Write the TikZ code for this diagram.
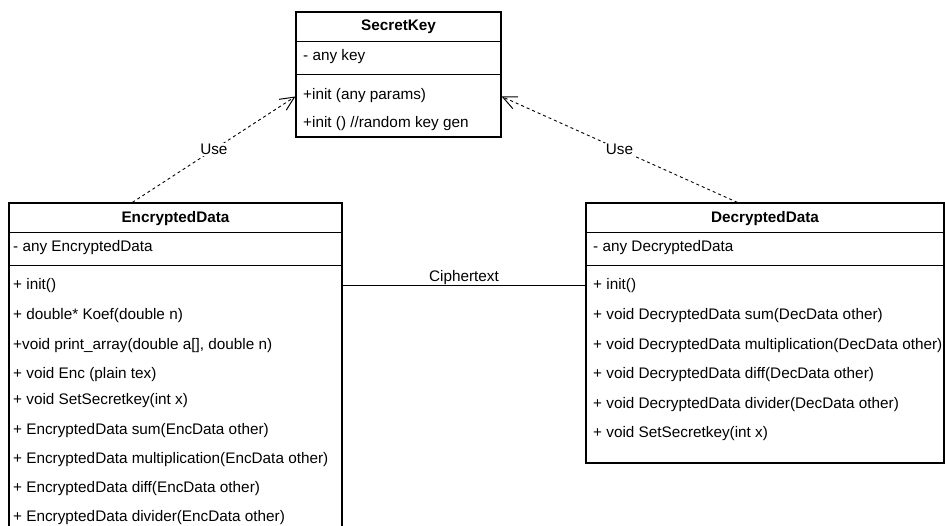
\documentclass[tikz,border=0pt]{standalone}
\usepackage{fontspec}
\setmainfont{Liberation Sans}
\usepackage{tikz}
\usetikzlibrary{arrows.meta}
\tikzstyle{classBox}=[draw, line width=1.2pt, inner sep=0pt]
\tikzstyle{className}=[inner sep=0pt, font=\fontsize{15.3}{18}\selectfont\bfseries]
\tikzstyle{member}=[anchor=west, inner sep=0pt, text height=11pt, text depth=3pt, font=\fontsize{15.3}{18}\selectfont]
\tikzstyle{divider}=[line width=1.2pt]
\tikzstyle{useDep}=[dashed, dash pattern=on 3pt off 3pt, line width=0.9pt, -{Straight Barb[length=14pt, width=13pt, line width=1pt]}]
\tikzstyle{depLabel}=[fill=white, inner sep=1pt, font=\fontsize{15.3}{18}\selectfont]

\begin{document}
\begin{tikzpicture}[x=1pt, y=-1pt]
	\useasboundingbox (0,0) rectangle (945,526);

	\node[classBox, minimum width=205pt, minimum height=125pt] (secret) at (398.5,74.5) {};
	\node[classBox, minimum width=333pt, minimum height=337pt] (enc) at (175.5,371.5) {};
	\node[classBox, minimum width=358pt, minimum height=260pt] (dec) at (765,333) {};

	\draw[divider] ([yshift=-30pt]secret.north west) -- ([yshift=-30pt]secret.north east);
	\draw[divider] ([yshift=-63pt]secret.north west) -- ([yshift=-63pt]secret.north east);
	\draw[divider] ([yshift=-30pt]enc.north west) -- ([yshift=-30pt]enc.north east);
	\draw[divider] ([yshift=-63pt]enc.north west) -- ([yshift=-63pt]enc.north east);
	\draw[divider] ([yshift=-30pt]dec.north west) -- ([yshift=-30pt]dec.north east);
	\draw[divider] ([yshift=-63pt]dec.north west) -- ([yshift=-63pt]dec.north east);

	\node[className] (secretTitle) at (398.5,27) {SecretKey};
	\node[member] (secretKey) at (303,57) {- any key};
	\node[member] (secretInit) at (303,96) {+init (any params)};
	\node[member] (secretGen) at (303,124) {+init () //random key gen};

	\node[className] (encTitle) at (175.5,219) {EncryptedData};
	\node[member] (encData) at (13,248) {- any EncryptedData};
	\node[member] (encInit) at (13,286) {+ init()};
	\node[member] (encKoef) at (13,316) {+ double* Koef(double n)};
	\node[member] (encPrint) at (13,346) {+void print\_array(double a[], double n)};
	\node[member] (encEnc) at (13,375) {+ void Enc (plain tex)};
	\node[member] (encKey) at (13,401) {+ void SetSecretkey(int x)};
	\node[member] (encSum) at (13,430) {+ EncryptedData sum(EncData other)};
	\node[member] (encMul) at (13,459) {+ EncryptedData multiplication(EncData other)};
	\node[member] (encDiff) at (13,488) {+ EncryptedData diff(EncData other)};
	\node[member] (encDiv) at (13,517) {+ EncryptedData divider(EncData other)};

	\node[className] (decTitle) at (765,219) {DecryptedData};
	\node[member] (decData) at (593,248) {- any DecryptedData};
	\node[member] (decInit) at (593,286) {+ init()};
	\node[member] (decSum) at (593,316) {+ void DecryptedData sum(DecData other)};
	\node[member] (decMul) at (593,346) {+ void DecryptedData multiplication(DecData other)};
	\node[member] (decDiff) at (593,375) {+ void DecryptedData diff(DecData other)};
	\node[member] (decDiv) at (593,404) {+ void DecryptedData divider(DecData other)};
	\node[member] (decKey) at (593,433) {+ void SetSecretkey(int x)};

	\draw[line width=1pt] ([yshift=-83pt]enc.north east) -- node[above, font=\fontsize{15.3}{18}\selectfont, inner sep=0pt] {Ciphertext} ([yshift=-83pt]dec.north west);

	\draw[useDep] ([xshift=124pt]enc.north west) -- node[depLabel, pos=0.5] {Use} ([yshift=-22pt]secret.west);
	\draw[useDep] ([xshift=152pt]dec.north west) -- node[depLabel, pos=0.5] {Use} ([yshift=-22pt]secret.east);
\end{tikzpicture}
\end{document}
